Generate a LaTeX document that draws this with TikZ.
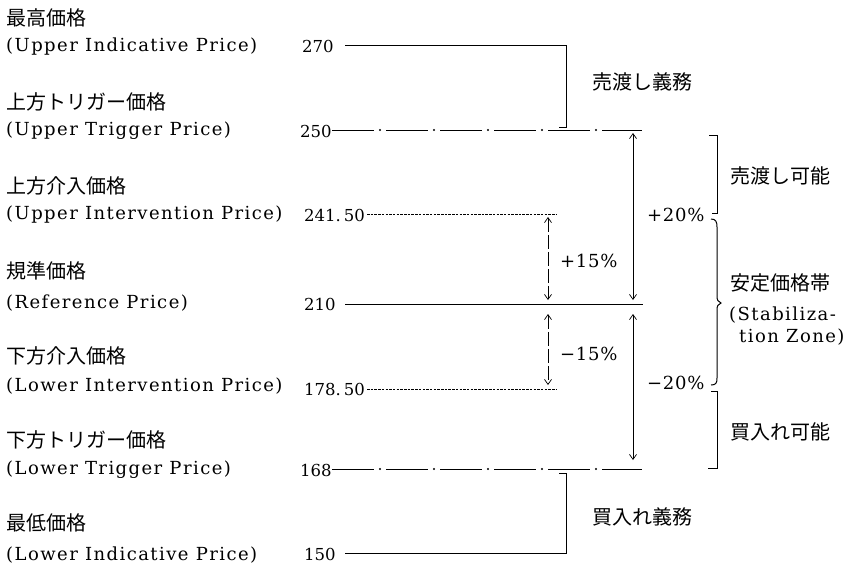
\documentclass[tikz,border=0pt]{standalone}
\usepackage{fontspec}
\setmainfont{DejaVu Serif}
\newfontfamily\en[LetterSpace=8]{DejaVu Serif}
\newfontfamily\numf{DejaVu Serif}
\newfontfamily\pctf[LetterSpace=4]{DejaVu Serif}
\newfontfamily\jp{Noto Sans CJK JP}
\usetikzlibrary{arrows.meta}
\begin{document}
\begin{tikzpicture}[x=1pt,y=-1pt,
  jplab/.style={font=\jp\fontsize{20}{22}\selectfont, inner sep=0pt, anchor=west},
  enlab/.style={font=\en\fontsize{18}{20}\selectfont, inner sep=0pt, anchor=west},
  numlab/.style={font=\numf\fontsize{16.5}{18}\selectfont, inner sep=0pt, anchor=west},
  pctlab/.style={font=\pctf\fontsize{18}{20}\selectfont, inner sep=0pt, anchor=west},
  level/.style={line width=0.8pt},
  dashline/.style={line width=0.8pt, dash pattern=on 42pt off 12pt},
  dotmark/.style={fill, draw=none, inner sep=0pt, minimum size=2.4pt, circle},
  fineline/.style={line width=0.6pt, dash pattern=on 2.5pt off 1.2pt},
  brk/.style={line width=1pt},
  dimarrow/.style={line width=0.7pt, {Straight Barb[length=5pt,width=7pt]}-{Straight Barb[length=5pt,width=7pt]}},
  dimdash/.style={dimarrow, dash pattern=on 14pt off 3pt},
]
\path[use as bounding box] (0,0) rectangle (855,566);

% left labels
\node[jplab] (j1) at (6,18) {最高価格};
\node[enlab] (e1) at (6,47) {(Upper Indicative Price)};
\node[jplab] (j2) at (6,102) {上方トリガー価格};
\node[enlab] (e2) at (6,131) {(Upper Trigger Price)};
\node[jplab] (j3) at (6,186) {上方介入価格};
\node[enlab] (e3) at (6,215) {(Upper Intervention Price)};
\node[jplab] (j4) at (6,271) {規準価格};
\node[enlab] (e4) at (6,303) {(Reference Price)};
\node[jplab] (j5) at (6,356) {下方介入価格};
\node[enlab] (e5) at (6,386) {(Lower Intervention Price)};
\node[jplab] (j6) at (6,440) {下方トリガー価格};
\node[enlab] (e6) at (6,470) {(Lower Trigger Price)};
\node[jplab] (j7) at (6,523) {最低価格};
\node[enlab] (e7) at (6,555) {(Lower Indicative Price)};

% numbers
\node[numlab] (n270) at (302,46) {270};
\node[numlab] (n250) at (300,131) {250};
\node[numlab] (n241) at (304,215) {241.\hspace{3pt}50};
\node[numlab] (n210) at (304,304) {210};
\node[numlab] (n178) at (304,389) {178.\hspace{3pt}50};
\node[numlab] (n168) at (300,470) {168};
\node[numlab] (n150) at (304,554) {150};

% level line coordinates
\coordinate (a270) at (345,45);   \coordinate (b270) at (566,45);
\coordinate (a250) at (332,130);  \coordinate (b250) at (642,130);
\coordinate (a241) at (367,214);  \coordinate (b241) at (557,214);
\coordinate (a210) at (345,304);  \coordinate (b210) at (643,304);
\coordinate (a178) at (367,389);  \coordinate (b178) at (557,389);
\coordinate (a168) at (332,469);  \coordinate (b168) at (642,469);
\coordinate (a150) at (345,553);  \coordinate (b150) at (566,553);

\draw[level] (a270) -- (b270) -- (566,127) -- (559,127);
\draw[dashline] (a250) -- (b250);
\draw[fineline] (a241) -- (b241);
\draw[level] (a210) -- (b210);
\draw[fineline] (a178) -- (b178);
\draw[dashline] (a168) -- (b168);
\draw[level] (a150) -- (b150) -- (566,473) -- (559,473);
\foreach \k/\xx in {1/380,2/434,3/488,4/542,5/596}{
  \node[dotmark] (du\k) at (\xx,130) {};
  \node[dotmark] (dl\k) at (\xx,469) {};
}

% dimension arrows
\coordinate (p15t) at (548,217); \coordinate (p15b) at (548,300);
\coordinate (m15t) at (548,314); \coordinate (m15b) at (548,385);
\coordinate (p20t) at (633,133); \coordinate (p20b) at (633,300);
\coordinate (m20t) at (633,314); \coordinate (m20b) at (633,460);
\draw[dimdash] (p15t) -- (p15b);
\draw[dimdash] (m15t) -- (m15b);
\draw[dimarrow] (p20t) -- (p20b);
\draw[dimarrow] (m20t) -- (m20b);

\node[pctlab] (lp15) at (560,261) {+15\%};
\node[pctlab] (lm15) at (560,354) {−15\%};
\node[pctlab] (lp20) at (647,215) {+20\%};
\node[pctlab] (lm20) at (647,383) {−20\%};

% right brackets and brace
\draw[brk] (709,135) -- (717,135) -- (717,213) -- (712,213);
\draw[brk] (711,219) .. controls (716,219) and (717,222) .. (717,227) -- (717,296)
   .. controls (717,300) and (718,302) .. (721,303)
   .. controls (718,304) and (717,306) .. (717,310) -- (717,378)
   .. controls (717,383) and (716,385) .. (711,385);
\draw[brk] (711,391) -- (717,391) -- (717,468) -- (708,468);

% right labels
\node[jplab] (t1) at (592,82) {売渡し義務};
\node[jplab] (t2) at (730,176) {売渡し可能};
\node[jplab] (t3) at (730,283) {安定価格帯};
\node[enlab] (t4) at (729,315) {(Stabiliza-};
\node[enlab] (t5) at (739,337) {tion Zone)};
\node[jplab] (t6) at (730,432) {買入れ可能};
\node[jplab] (t7) at (592,517) {買入れ義務};
\end{tikzpicture}
\end{document}
